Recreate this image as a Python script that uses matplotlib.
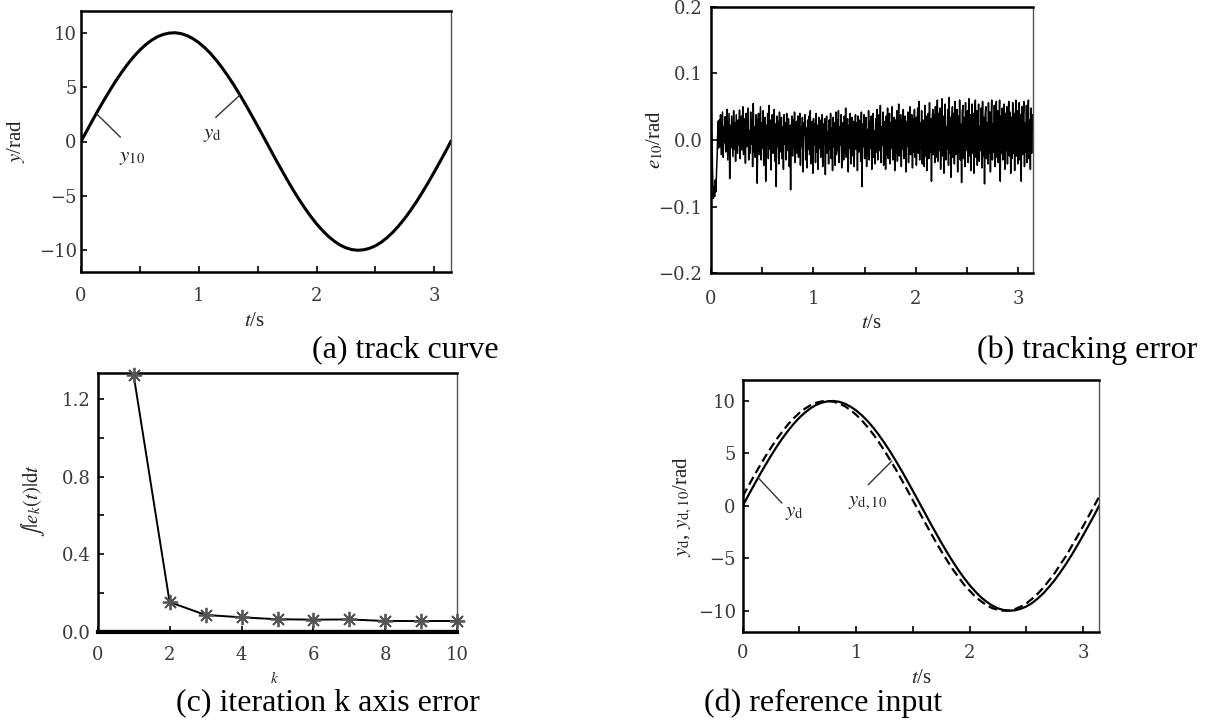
import numpy as np
import matplotlib
matplotlib.use("Agg")
import matplotlib.pyplot as plt
from matplotlib.ticker import MultipleLocator

plt.rcParams['font.family'] = ['Liberation Serif', 'DejaVu Serif']
plt.rcParams['mathtext.fontset'] = 'stix'

# ---- data ----
t_ref = [0.0, 0.05, 0.1, 0.15, 0.2, 0.25, 0.3, 0.35, 0.4, 0.45, 0.5, 0.55, 0.6, 0.65, 0.7, 0.75,
         0.8, 0.85, 0.9, 0.95, 1.0, 1.05, 1.1, 1.15, 1.2, 1.25, 1.3, 1.35, 1.4, 1.45, 1.5, 1.55,
         1.6, 1.65, 1.7, 1.75, 1.8, 1.85, 1.9, 1.95, 2.0, 2.05, 2.1, 2.15, 2.2, 2.25, 2.3, 2.35,
         2.4, 2.45, 2.5, 2.55, 2.6, 2.65, 2.7, 2.75, 2.8, 2.85, 2.9, 2.95, 3.0, 3.05, 3.1, 3.14]
y_d = [0.0, 1.00, 1.99, 2.96, 3.89, 4.79, 5.65, 6.44, 7.17, 7.83, 8.41, 8.91, 9.32, 9.64, 9.85, 9.97,
       10.0, 9.92, 9.74, 9.46, 9.09, 8.63, 8.09, 7.46, 6.75, 5.98, 5.16, 4.27, 3.35, 2.39, 1.41, 0.42,
       -0.58, -1.58, -2.55, -3.51, -4.43, -5.30, -6.12, -6.88, -7.57, -8.18, -8.72, -9.16, -9.52, -9.78, -9.94, -10.0,
       -9.96, -9.82, -9.59, -9.26, -8.83, -8.32, -7.72, -7.06, -6.31, -5.51, -4.65, -3.74, -2.79, -1.82, -0.83, 0.0]
# system output after 10 iterations: indistinguishable from y_d at this scale
y_10 = [0.05, 1.01, 2.00, 2.95, 3.90, 4.78, 5.66, 6.43, 7.18, 7.82, 8.42, 8.90, 9.33, 9.63, 9.86, 9.96,
        10.02, 9.91, 9.75, 9.45, 9.10, 8.62, 8.10, 7.45, 6.76, 5.97, 5.17, 4.26, 3.36, 2.38, 1.42, 0.41,
        -0.57, -1.59, -2.54, -3.52, -4.42, -5.31, -6.11, -6.89, -7.56, -8.19, -8.71, -9.17, -9.51, -9.79, -9.93, -10.01,
        -9.95, -9.83, -9.58, -9.27, -8.82, -8.33, -7.71, -7.07, -6.30, -5.52, -4.64, -3.75, -2.78, -1.83, -0.82, 0.01]
y_d10 = [0.90, 1.89, 2.86, 3.80, 4.71, 5.56, 6.37, 7.10, 7.77, 8.36, 8.87, 9.28, 9.61, 9.84, 9.97, 10.0,
         9.93, 9.76, 9.50, 9.13, 8.68, 8.14, 7.52, 6.83, 6.06, 5.24, 4.35, 3.46, 2.49, 1.51, 0.51, -0.48,
         -1.47, -2.45, -3.41, -4.33, -5.20, -6.04, -6.79, -7.51, -8.10, -8.67, -9.10, -9.48, -9.76, -9.92, -10.0, -9.97,
         -9.84, -9.61, -9.29, -8.86, -8.37, -7.78, -7.10, -6.39, -5.56, -4.76, -3.81, -2.88, -1.92, -0.93, 0.07, 0.87]

e10_mrad = [72, 40, -10, -55, -88, -70, -85, -60, -78, -45, -20, 28, -12,
            30, -10, 38, -22, 12, 42, -26, 20, -4, 35, -18, 28, 46, -30, 8, 40, -58, 22, -12, 36, 5, -25, 44, -14, 26, -32, 38, 10, -20, 30,
            -8, 45, -28, 18, 36, -15, 50, -22, 6, 32, -35, 40, -10, 24, 48, -30, 14, -20, 42, -6, 30, -40, 55, -18, 20, -26, 38, 2, -65, 28,
            40, -22, 12, 50, -30, 26, -12, 44, -38, 18, 34, -62, 22, -8, 40, -28, 52, -14, 30, -45, 16, 38, -20, 8, 46, -32, 24, -70, 36, -10,
            28, -36, 42, -18, 14, 34, -28, 20, -44, 38, -6, 26, -30, 40, -16, 10, 32, -40, 22, -75, 18, 36, -24, 30, -12, 42, -34, 16, 28, -20,
            36, -26, 12, 40, -38, 20, -10, 34, -48, 26, 8, 38, -30, 18, -42, 30, -14, 36, -22, 44, -36, 14, 28, -50, 32, -8, 24, -34, 40, -18,
            22, -44, 34, -12, 30, -26, 16, 38, -40, 24, -6, 32, -52, 20, 36, -20, 12, -36, 30, -14, 40, -28, 18, -46, 34, -10, 26, -38, 42, -22,
            30, -16, 44, -34, 20, -8, 38, -42, 26, 14, -30, 36, -20, 48, -26, 10, 32, -48, 22, -12, 40, -36, 18, 34, -24, 28, -40, 16, 38, -14,
            26, -46, 36, -18, 30, 12, -32, 42, -70, 24, -10, 38, -28, 20, 34, -40, 16, -22, 44, -30, 28, -12, 36, -44, 22, 40, -26, 14, -36, 32,
            -18, 46, -30, 24, 38, -16, 52, -34, 20, -8, 42, -38, 28, 12, -44, 36, -22, 48, -28, 18, 40, -36, 26, -12, 50, -30, 22, 34, -46, 30,
            -20, 44, -32, 26, 54, -24, 16, 38, -40, 30, -14, 46, -28, 20, 36, -48, 28, -10, 42, -34, 24, 50, -22, 12, 38, -42, 32, -18, 46, -26,
            34, -38, 22, 48, -20, 58, -30, 26, -12, 44, -36, 30, 14, -40, 52, -24, 36, -46, 20, 40, -28, 56, -18, 32, -62, 28, 46, -22, 38, -34,
            50, -26, 24, 60, -32, 40, -16, 48, -44, 30, 62, -24, 36, -50, 26, 54, -30, 20, -14, 46, -38, 64, -20, 34, -56, 28, 50, -26, 40, -36,
            58, -22, 30, 46, -48, 36, -18, 60, -30, 24, -64, 42, 52, -28, 34, -40, 56, -16, 28, 44, -34, 62, -24, 38, -46, 30, 54, -20, 40, -50,
            36, 60, -26, 44, -38, 28, 54, -32, 20, -16, 48, -42, 58, -24, 34, -66, 40, 50, -28, 26, -36, 56, -20, 42, -48, 32, 60, -30, 24, -18,
            52, -40, 30, 58, -26, 44, -34, 22, 60, -62, 36, -20, 48, -30, 28, 54, -44, 40, -16, 50, -36, 26, 58, -24, 42, -50, 34, -28, 56, -20,
            40, -46, 32, 60, -24, 44, -36, 28, 56, -30, 38, -62, 50, -22, 34, 58, -40, 26, -18, 52, -34, 42, 60, -28, 30, -44, 48, -20, 38, 14]

k_iter = [1, 2, 3, 4, 5, 6, 7, 8, 9, 10]
int_err = [1.32, 0.155, 0.089, 0.077, 0.067, 0.065, 0.066, 0.058, 0.058, 0.058]

# ---- figure ----
W, H = 1212, 722
fig = plt.figure(figsize=(W / 100, H / 100), dpi=100)

def rect(l, r, t, b):
    return [l / W, 1 - b / H, (r - l) / W, (b - t) / H]

tick_col = '#3a3a3a'
tick_fs = 13
lab_fs = 15

def style(ax, xpad=10, ypad=4):
    for s in ['top', 'left', 'bottom']:
        ax.spines[s].set_linewidth(1.8)
        ax.spines[s].set_color('black')
    ax.spines['right'].set_linewidth(1.0)
    ax.spines['right'].set_color('#555555')
    ax.tick_params(direction='in', length=4, width=1.2, top=False, right=False)
    ax.tick_params(which='minor', direction='in', length=4, width=1.2, top=False, right=False)
    ax.tick_params(axis='x', pad=xpad)
    ax.tick_params(axis='y', pad=ypad)
    for lab in ax.get_xticklabels() + ax.get_yticklabels():
        lab.set_fontfamily('DejaVu Serif')
        lab.set_fontsize(tick_fs)
        lab.set_color(tick_col)

def labels(ax, xl, yl, xc, yc, xfs=lab_fs):
    ax.set_xlabel(xl, fontsize=xfs, color='#222222', va='center', ha='center')
    ax.set_ylabel(yl, fontsize=lab_fs, color='#222222', va='center', ha='center')
    ax.xaxis.set_label_coords(*xc)
    ax.yaxis.set_label_coords(*yc)

# (a)
axa = fig.add_axes(rect(81, 451, 11, 272))
axa.plot(t_ref, y_d, color='black', lw=2.2)
axa.plot(t_ref, y_10, color='black', lw=1.0)
axa.set_xlim(0, np.pi)
axa.set_ylim(-12, 12)
axa.set_yticks([-10, -5, 0, 5, 10])
axa.set_yticklabels(['\u221210', '\u22125', '0', '5', '10'])
axa.set_xticks([0, 1, 2, 3])
axa.xaxis.set_minor_locator(MultipleLocator(0.5))
style(axa, xpad=11, ypad=3)
labels(axa, '$t$/s', '$y$/rad', (0.47, -0.19), (-0.176, 0.5))
axa.plot([0.134, 0.333], [2.53, 0.41], color='#333333', lw=1)
axa.text(0.32, -1.45, '$y_{\\mathrm{10}}$', fontsize=15, color='#222222', va='center', ha='left')
axa.plot([1.345, 1.145], [4.22, 2.23], color='#333333', lw=1)
axa.text(1.04, 0.6, '$y_{\\mathrm{d}}$', fontsize=15, color='#222222', va='center', ha='left')

# (b)
axb = fig.add_axes(rect(710.7, 1033, 7, 273))
e10 = np.array(e10_mrad) / 1000.0
t_err = np.linspace(0, np.pi, len(e10))
axb.plot(t_err, e10, color='black', lw=1.1)
axb.set_xlim(0, np.pi)
axb.set_ylim(-0.2, 0.2)
axb.set_yticks([-0.2, -0.1, 0.0, 0.1, 0.2])
axb.set_yticklabels(['\u22120.2', '\u22120.1', '0.0', '0.1', '0.2'])
axb.set_xticks([0, 1, 2, 3])
axb.xaxis.set_minor_locator(MultipleLocator(0.5))
style(axb, xpad=12, ypad=6)
labels(axb, '$t$/s', '$e_{\\mathrm{10}}$/rad', (0.5, -0.188), (-0.173, 0.5))

# (c)
axc = fig.add_axes(rect(97.7, 457.3, 373.3, 632.3))
axc.plot(k_iter, int_err, color='black', lw=1.4, marker=(8, 2, 0), ms=11, mew=1.3,
         mfc='#555555', mec='#555555', clip_on=False, zorder=3)
axc.axhline(0, color='black', lw=3)
axc.set_xlim(0, 10)
axc.set_ylim(0, 1.33)
axc.set_xticks([0, 2, 4, 6, 8, 10])
axc.set_yticks([0.0, 0.4, 0.8, 1.2])
axc.yaxis.set_minor_locator(MultipleLocator(0.2))
style(axc, xpad=10, ypad=5)
axc.spines['bottom'].set_linewidth(3)
labels(axc, '$k$', '$\\int|e_k(t)|\\mathrm{d}t$', (0.493, -0.176), (-0.18, 0.51), xfs=11)

# (d)
axd = fig.add_axes(rect(742.7, 1099.3, 380, 631.7))
axd.plot(t_ref, y_d, color='black', lw=1.6)
axd.plot(t_ref, y_d10, color='black', lw=1.6, ls=(0, (4, 2)))
axd.set_xlim(0, np.pi)
axd.set_ylim(-12, 12)
axd.set_yticks([-10, -5, 0, 5, 10])
axd.set_yticklabels(['\u221210', '\u22125', '0', '5', '10'])
axd.set_xticks([0, 1, 2, 3])
axd.xaxis.set_minor_locator(MultipleLocator(0.5))
style(axd, xpad=9, ypad=5)
labels(axd, '$t$/s', '$y_{\\mathrm{d}}$, $y_{\\mathrm{d,10}}$/rad', (0.502, -0.184), (-0.167, 0.495))
axd.plot([0.137, 0.344], [2.67, 0.28], color='#333333', lw=1)
axd.text(0.373, -0.65, '$y_{\\mathrm{d}}$', fontsize=15, color='#222222', va='center', ha='left')
axd.plot([1.313, 1.107], [4.26, 2.03], color='#333333', lw=1)
axd.text(0.928, 0.3, '$y_{\\mathrm{d,10}}$', fontsize=15, color='#222222', va='center', ha='left')

# captions
cap_fs = 23
fig.text(405 / W, 1 - 350 / H, '(a) track curve', fontsize=cap_fs, ha='center', va='center')
fig.text(1087.5 / W, 1 - 350 / H, '(b) tracking error', fontsize=cap_fs, ha='center', va='center')
fig.text(328 / W, 1 - 703 / H, '(c) iteration k axis error', fontsize=cap_fs, ha='center', va='center')
fig.text(823 / W, 1 - 703 / H, '(d) reference input', fontsize=cap_fs, ha='center', va='center')

fig.savefig('out.png', dpi=100)
